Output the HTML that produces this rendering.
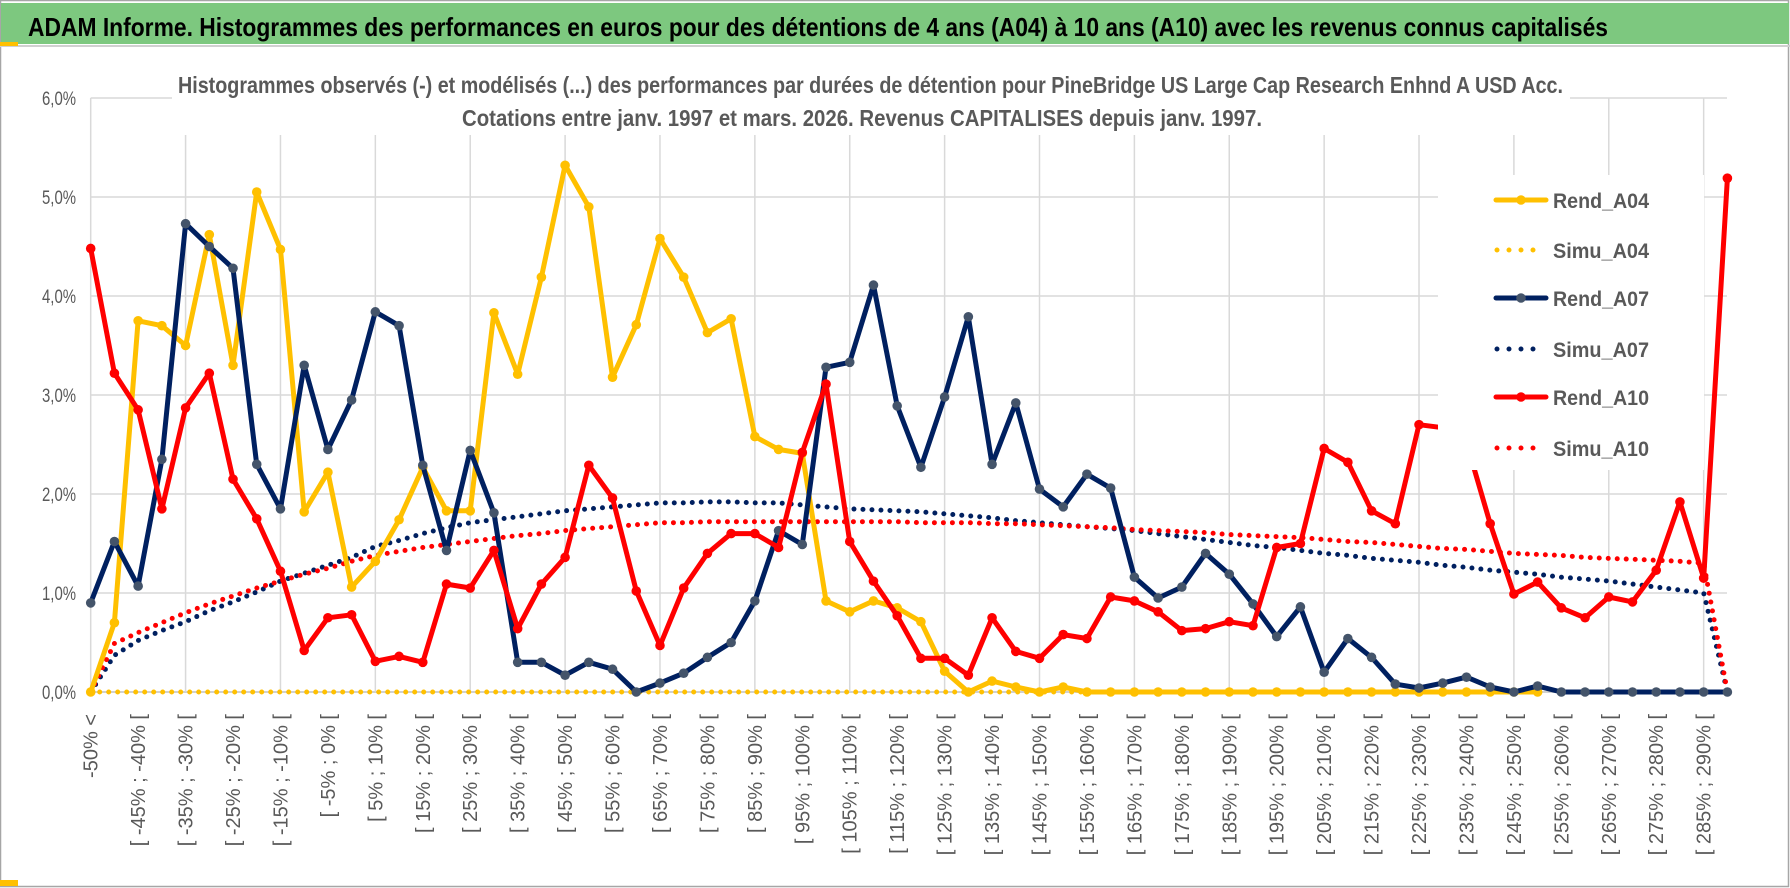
<!DOCTYPE html>
<html><head><meta charset="utf-8"><style>
html,body{margin:0;padding:0;background:#fff;}
svg{display:block;}
text{font-family:"Liberation Sans",sans-serif;}
</style></head><body>
<svg id="chart" width="1790" height="888" viewBox="0 0 1790 888" xmlns="http://www.w3.org/2000/svg">
<rect x="0" y="0" width="1790" height="888" fill="#fff"/>
<rect x="0.5" y="0.5" width="1788" height="886" fill="none" stroke="#a6a6a6" stroke-width="1.5"/>
<rect x="1" y="3" width="1788" height="41" fill="#7dc87f"/>
<line x1="0" y1="46" x2="1790" y2="46" stroke="#d0d0d0" stroke-width="2"/>
<rect x="0" y="42" width="18" height="4" fill="#ffc000"/>
<rect x="0" y="880" width="18" height="6" fill="#ffc000"/>
<text x="28" y="36" font-size="26" font-weight="bold" fill="#000" textLength="1580" lengthAdjust="spacingAndGlyphs">ADAM Informe. Histogrammes des performances en euros pour des détentions de 4 ans (A04) à 10 ans (A10) avec les revenus connus capitalisés</text>
<g id="grid"></g>
<rect x="172" y="60" width="1398" height="75" fill="#fff"/>
<text x="178" y="93" font-size="23" font-weight="bold" fill="#595959" textLength="1385" lengthAdjust="spacingAndGlyphs">Histogrammes observés (-) et modélisés (...) des performances par durées de détention pour PineBridge US Large  Cap Research Enhnd A USD Acc.</text>
<text x="462" y="126" font-size="23" font-weight="bold" fill="#595959" textLength="800" lengthAdjust="spacingAndGlyphs">Cotations entre janv. 1997 et mars. 2026.  Revenus CAPITALISES depuis janv. 1997.</text>
<g id="axes"></g>
<g id="series"></g>
<g id="legend"></g>
</svg>
<script>
const yTicks = [0,1,2,3,4,5,6];
const yTickLabels = ["0,0%","1,0%","2,0%","3,0%","4,0%","5,0%","6,0%"];
const categories = ["-50% <"];
for (let a = -50; a < 295; a += 5) categories.push("[ " + a + "% ; " + (a + 5) + "% [");
const rendA04 = [0,0.7,3.75,3.7,3.5,4.62,3.3,5.05,4.47,1.82, 2.22,1.06,1.32,1.74,2.27,1.83,1.83,3.83,3.21,4.19, 5.32,4.90,3.18,3.71,4.58,4.19,3.63,3.77,2.58,2.45, 2.41,0.92,0.81,0.92,0.85,0.71,0.21,0,0.11,0.05, 0,0.05,0,0,0,0,0,0,0,0, 0,0,0,0,0,0,0,0,0,0, 0,0];
const simuA04 = [0,0,0,0,0,0,0,0,0,0, 0,0,0,0,0,0,0,0,0,0, 0,0,0,0,0,0,0,0,0,0, 0,0,0,0,0,0,0,0,0,0, 0,0,0,0,0,0,0,0,0,0, 0,0,0,0,0,0,0,0,0,0, 0,0];
const rendA07 = [0.9,1.52,1.07,2.35,4.73,4.5,4.28,2.3,1.85,3.3, 2.45,2.95,3.84,3.70,2.29,1.43,2.44,1.81,0.30,0.30, 0.17,0.30,0.23,0,0.09,0.19,0.35,0.5,0.92,1.63, 1.49,3.28,3.33,4.11,2.89,2.27,2.98,3.79,2.30,2.92, 2.05,1.87,2.2,2.06,1.16,0.95,1.06,1.40,1.19,0.89, 0.56,0.86,0.2,0.54,0.35,0.08,0.04,0.09,0.15,0.05, 0,0.06,0,0,0,0,0,0,0,0];
const simuA07 = [0,0.37,0.52,0.62,0.71,0.82,0.91,1.01,1.12,1.2, 1.28,1.36,1.47,1.53,1.6,1.66,1.71,1.74,1.77,1.8, 1.83,1.85,1.87,1.89,1.91,1.91,1.92,1.92,1.91,1.91, 1.89,1.87,1.85,1.84,1.83,1.82,1.80,1.78,1.76,1.73, 1.71,1.69,1.67,1.65,1.63,1.6,1.57,1.54,1.51,1.48, 1.46,1.43,1.40,1.38,1.35,1.33,1.31,1.28,1.26,1.23, 1.21,1.19,1.16,1.14,1.12,1.09,1.06,1.03,1.0,0];
const rendA10 = [4.48,3.22,2.85,1.85,2.87,3.22,2.15,1.75,1.22,0.42, 0.75,0.78,0.31,0.36,0.30,1.09,1.05,1.43,0.64,1.09, 1.36,2.29,1.96,1.02,0.47,1.05,1.40,1.60,1.60,1.46, 2.42,3.11,1.52,1.12,0.77,0.34,0.34,0.17,0.75,0.41, 0.34,0.58,0.54,0.96,0.92,0.81,0.62,0.64,0.71,0.67, 1.46,1.50,2.46,2.32,1.83,1.70,2.70,2.67,2.52,1.70, 0.99,1.11,0.85,0.75,0.96,0.91,1.23,1.92,1.15,5.19];
const simuA10 = [0,0.49,0.6,0.7,0.8,0.89,0.97,1.05,1.12,1.19, 1.25,1.32,1.38,1.42,1.46,1.49,1.52,1.55,1.58,1.6, 1.63,1.65,1.67,1.69,1.71,1.71,1.72,1.72,1.72,1.72, 1.72,1.72,1.72,1.72,1.72,1.71,1.71,1.71,1.70,1.70, 1.69,1.68,1.67,1.66,1.64,1.63,1.62,1.61,1.59,1.58, 1.57,1.56,1.54,1.52,1.51,1.49,1.47,1.45,1.44,1.42, 1.40,1.39,1.38,1.36,1.35,1.34,1.33,1.32,1.30,0];
const seriesNames = ["Rend_A04","Simu_A04","Rend_A07","Simu_A07","Rend_A10","Simu_A10"];

const NS = "http://www.w3.org/2000/svg";
const X0 = 90.7, DX = 23.72, Y0 = 692, DY = 99, XR = 1727;
function xS(i){ return X0 + i * DX; }
function yS(v){ return Y0 - v * DY; }
function mk(tag, attrs, parent){
  const e = document.createElementNS(NS, tag);
  for (const k in attrs) e.setAttribute(k, attrs[k]);
  parent.appendChild(e);
  return e;
}
const grid = document.getElementById('grid');
const axes = document.getElementById('axes');
const series = document.getElementById('series');
const legend = document.getElementById('legend');

yTicks.forEach((t, k) => {
  const l = mk('line', {x1: X0, x2: XR, y1: yS(t), y2: yS(t), stroke: t === 0 ? '#d0d0d0' : '#d9d9d9', 'stroke-width': t === 0 ? 2 : 1.5}, grid);
  
  
  const tx = mk('text', {x: 76, y: yS(t) + 7, 'font-size': 19, fill: '#595959', 'text-anchor': 'end', textLength: 34, lengthAdjust: 'spacingAndGlyphs'}, axes);
  tx.textContent = yTickLabels[k];
  
  
});
for (let i = 4; i < categories.length; i += 4) {
  const l = mk('line', {x1: xS(i), x2: xS(i), y1: 98, y2: Y0, stroke: '#d9d9d9', 'stroke-width': 1.5}, grid);
  
  
}
const ya = mk('line', {x1: X0, x2: X0, y1: 98, y2: Y0, stroke: '#d9d9d9', 'stroke-width': 1.5}, grid);



categories.forEach((c, i) => {
  if (i % 2 !== 0) return;
  const x = xS(i) + 7, y = 714;
  const t = mk('text', {x: x, y: y, 'font-size': 20, fill: '#595959', 'text-anchor': 'end', transform: 'rotate(-90 ' + x + ' ' + y + ')'}, axes);
  t.textContent = c;
  
  
});

function pts(arr){ return arr.map((v, i) => xS(i).toFixed(1) + ',' + yS(v).toFixed(1)).join(' '); }
function dotted(arr, color, name){
  const p = mk('polyline', {points: pts(arr), fill: 'none', stroke: color, 'stroke-width': 5, 'stroke-linecap': 'round', 'stroke-dasharray': '0 9'}, series);
  
  
}
function solid(arr, color, mcolor, name){
  const g = mk('g', {}, series);
  
  
  const p = mk('polyline', {points: pts(arr), fill: 'none', stroke: color, 'stroke-width': 5, 'stroke-linejoin': 'round'}, g);
  
  
  arr.forEach((v, i) => {
    const c = mk('circle', {cx: xS(i), cy: yS(v), r: 4.8, fill: mcolor}, g);
    
    
  });
}
dotted(simuA04, '#ffc000', 'simu-a04-series');
dotted(simuA07, '#002060', 'simu-a07-series');
dotted(simuA10, '#ff0000', 'simu-a10-series');
solid(rendA04, '#ffc000', '#ffc000', 'rend-a04-series');
solid(rendA07, '#002060', '#44546a', 'rend-a07-series');
solid(rendA10, '#ff0000', '#ff0000', 'rend-a10-series');

const lb = mk('rect', {x: 1438, y: 175, width: 266, height: 295, fill: '#fff'}, legend);


const legColors = ['#ffc000','#ffc000','#002060','#002060','#ff0000','#ff0000'];
const legMarker = ['#ffc000',null,'#44546a',null,'#ff0000',null];
const legY = [200,250,298,349,397,448];
seriesNames.forEach((n, k) => {
  const g = mk('g', {}, legend);
  
  
  const y = legY[k];
  if (legMarker[k]) {
    mk('line', {x1: 1496, x2: 1546, y1: y, y2: y, stroke: legColors[k], 'stroke-width': 5, 'stroke-linecap': 'round'}, g);
    mk('circle', {cx: 1521, cy: y, r: 4.8, fill: legMarker[k]}, g);
  } else {
    mk('line', {x1: 1497, x2: k === 5 ? 1545 : 1535, y1: y, y2: y, stroke: legColors[k], 'stroke-width': 5, 'stroke-linecap': 'round', 'stroke-dasharray': '0 12'}, g);
  }
  const t = mk('text', {x: 1553, y: y + 8, 'font-size': 21, 'font-weight': 'bold', fill: '#595959', textLength: 96, lengthAdjust: 'spacingAndGlyphs'}, g);
  t.textContent = n;
});
</script>
</body></html>
